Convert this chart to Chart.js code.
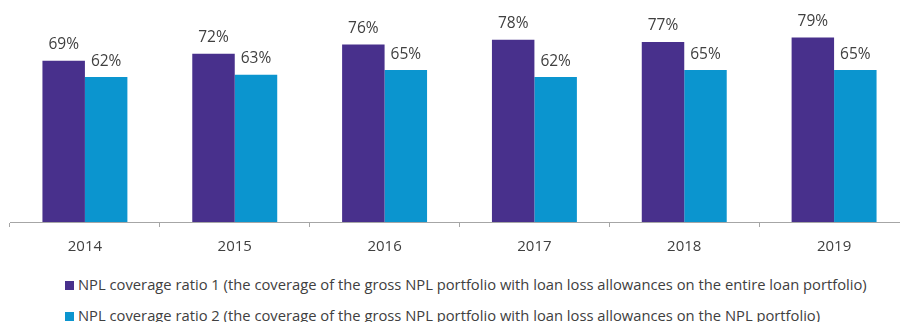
<!DOCTYPE html>
<html>
<head>
<meta charset="utf-8">
<script src="https://cdn.jsdelivr.net/npm/chart.js@4/dist/chart.umd.min.js"></script>
<style>
  html, body { margin: 0; padding: 0; background: #fff; overflow: hidden; }
  #wrap { position: relative; width: 900px; height: 322px; overflow: hidden; }
  #chart-box { position: absolute; left: 0; top: 0; width: 912px; height: 267px; }
  #legend { position: absolute; left: 65px; top: 274px; font-family: "Open Sans", sans-serif; font-size: 14.75px; color: #404040; }
  #legend div { height: 31px; line-height: 20px; white-space: nowrap; }
  #legend span.sw { display: inline-block; width: 9px; height: 9px; margin-right: 4px; vertical-align: 0px; }
</style>
</head>
<body>
<div id="wrap">
  <div id="chart-box"><canvas id="npl-chart"></canvas></div>
  <div id="legend"></div>
</div>
<script>
const years = ['2014', '2015', '2016', '2017', '2018', '2019'];
const ratio1 = [69, 72, 76, 78, 77, 79];
const ratio2 = [62, 63, 65, 62, 65, 65];
const seriesNames = [
  'NPL coverage ratio 1 (the coverage of the gross NPL portfolio with loan loss allowances on the entire loan portfolio)',
  'NPL coverage ratio 2 (the coverage of the gross NPL portfolio with loan loss allowances on the NPL portfolio)'
];
const colors = ['#48308c', '#0b95cf'];

// percentage labels above each bar
const barLabels = {
  id: 'barLabels',
  afterDatasetsDraw(chart) {
    const ctx = chart.ctx;
    ctx.save();
    ctx.font = '15.5px "Open Sans", sans-serif';
    ctx.fillStyle = '#404040';
    ctx.textAlign = 'center';
    ctx.textBaseline = 'middle';
    chart.data.datasets.forEach((ds, i) => {
      chart.getDatasetMeta(i).data.forEach((bar, j) => {
        ctx.fillText(ds.data[j] + '%', bar.x, bar.y - 16);
      });
    });
    ctx.restore();
  }
};

const chart = new Chart(document.getElementById('npl-chart'), {
  type: 'bar',
  data: {
    labels: years,
    datasets: [
      { label: seriesNames[0], data: ratio1, backgroundColor: colors[0] },
      { label: seriesNames[1], data: ratio2, backgroundColor: colors[1] }
    ]
  },
  options: {
    responsive: true,
    maintainAspectRatio: false,
    animation: false,
    layout: { padding: { left: 10, right: 3, top: 0, bottom: 0 } },
    datasets: { bar: { categoryPercentage: 0.567, barPercentage: 1 } },
    plugins: { legend: { display: false }, tooltip: { enabled: false } },
    scales: {
      x: {
        grid: { offset: true, drawOnChartArea: false, drawTicks: true, tickLength: 5, color: '#a6a6a6' },
        border: { color: '#a6a6a6' },
        ticks: { color: '#404040', font: { family: '"Open Sans", sans-serif', size: 15 }, padding: 11 }
      },
      y: { display: false, min: 0, max: 95 }
    }
  },
  plugins: [barLabels]
});

const legend = document.getElementById('legend');
seriesNames.forEach((name, i) => {
  const row = document.createElement('div');
  const sw = document.createElement('span');
  sw.className = 'sw';
  sw.style.background = colors[i];
  row.appendChild(sw);
  row.appendChild(document.createTextNode(name));
  legend.appendChild(row);
});
</script>
</body>
</html>
